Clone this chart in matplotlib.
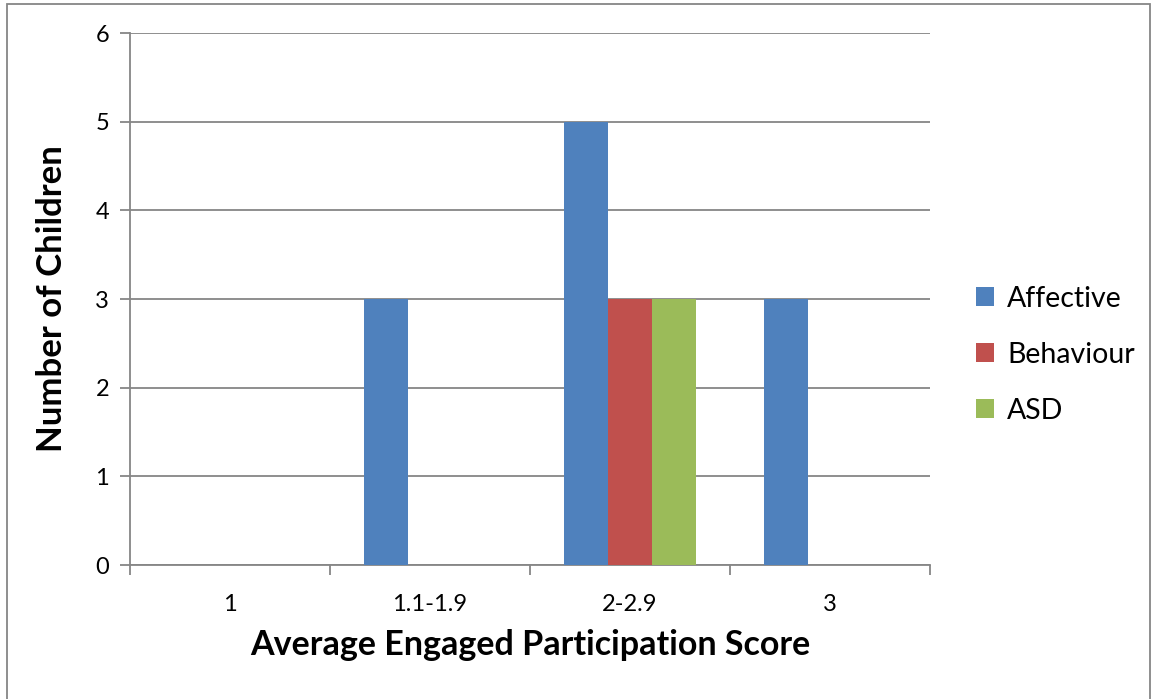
import numpy as np
import matplotlib.pyplot as plt
from matplotlib.patches import Rectangle

plt.rcParams['font.family'] = ['Lato', 'DejaVu Sans']

categories = ['1', '1.1-1.9', '2-2.9', '3']
affective = [0, 3, 5, 3]
behaviour = [0, 0, 3, 0]
asd = [0, 0, 3, 0]

series = [('Affective', affective, '#4f81bd'),
          ('Behaviour', behaviour, '#c0504d'),
          ('ASD', asd, '#9bbb59')]

fig = plt.figure(figsize=(11.54, 6.99), dpi=100)
ax = fig.add_axes([130/1154., 1-565/699., 800/1154., 532/699.])

x = np.arange(len(categories))
w = 0.22
for i, (name, vals, col) in enumerate(series):
    ax.bar(x + (i-1)*w, vals, w, color=col, label=name, zorder=3)

ax.set_xlim(-0.5, len(categories)-0.5)
ax.set_ylim(0, 6)
ax.set_yticks(range(0, 7))
ax.yaxis.grid(True, color='#868686', lw=1.3, zorder=0)

ax.set_xticks(x)
ax.set_xticklabels(categories, fontsize=17)
ax.set_xticks(np.arange(-0.5, len(categories)), minor=True)
ax.tick_params(axis='x', which='major', length=0, pad=21)
ax.tick_params(axis='x', which='minor', length=7, width=1.3, color='#868686', direction='out')
ax.tick_params(axis='y', length=7, width=1.3, color='#868686', labelsize=17, pad=8)

for s in ['top', 'right']:
    ax.spines[s].set_visible(False)
for s in ['left', 'bottom']:
    ax.spines[s].set_color('#868686')
    ax.spines[s].set_linewidth(1.3)

ax.set_xlabel('Average Engaged Participation Score', fontsize=24.5, fontweight='bold', labelpad=10)
ax.set_ylabel('Number of Children', fontsize=25, fontweight='bold', labelpad=20)

ax.legend(loc='center left', bbox_to_anchor=(1.025, 0.395), frameon=False, fontsize=20.5,
          handlelength=0.65, handleheight=0.65, handletextpad=0.45, labelspacing=1.05)

fig.patches.append(Rectangle((7/1154., -0.01), 1143/1154., 1-4/699.+0.01, transform=fig.transFigure,
                             fill=False, edgecolor='#868686', lw=1.3))

plt.savefig('out.png', dpi=100)
